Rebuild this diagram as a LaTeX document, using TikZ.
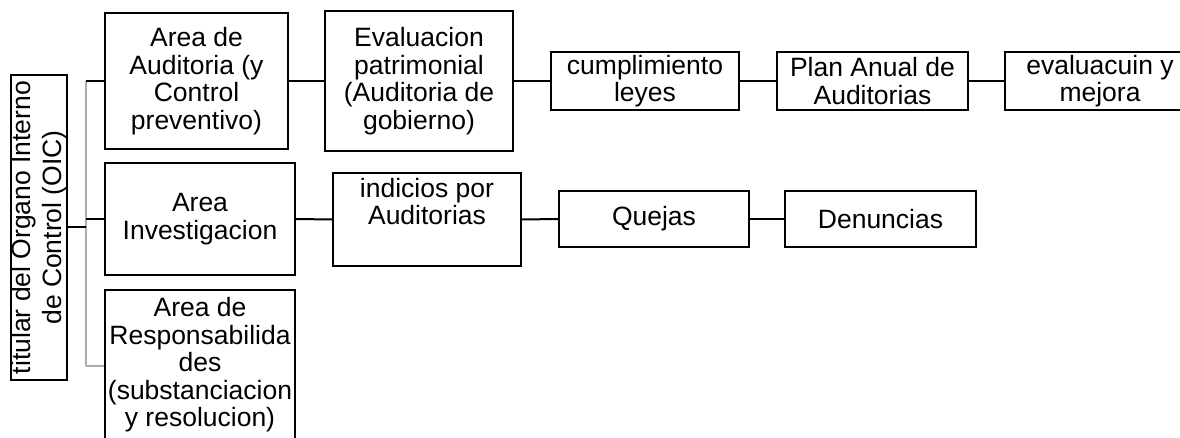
\documentclass[tikz,border=0pt]{standalone}
\usepackage{fontspec}
\setmainfont{Liberation Sans}
\usetikzlibrary{positioning}

\tikzset{
  box/.style={draw, line width=2pt, align=center, inner sep=0pt,
    font=\fontsize{26.5}{27.5}\selectfont},
  link/.style={line width=2pt},
  buslink/.style={line width=2.6pt, gray!65},
}

\begin{document}
\begin{tikzpicture}[x=1pt,y=-1pt]
    \useasboundingbox (0,0) rectangle (1180,438);

    % titular (rotated)
    \node[box, rotate=90, minimum width=305pt, minimum height=56pt,
      font=\fontsize{26.5}{31}\selectfont] (oic)
      at (39,227.5) {titular del Organo Interno\\de Control (OIC)};

    % areas
    \node[box, minimum width=183pt, minimum height=136pt] (aud) at (196.5,81)
      {Area de\\Auditoria (y\\Control\\preventivo)};
    \node[box, minimum width=190pt, minimum height=112pt] (inv) at (200,219)
      {Area\\Investigacion};
    \node[box, minimum width=190pt, minimum height=150pt, anchor=north] (resp) at (200,289)
      {Area de\\Responsabilida\\des\\(substanciacion\\y resolucion)};

    % first row
    \node[box, minimum width=188pt, minimum height=140pt] (eval) at (419,81)
      {Evaluacion\\patrimonial\\(Auditoria de\\gobierno)};
    \node[box, minimum width=188pt, minimum height=58pt] (cumpl) at (645,81)
      {cumplimiento\\leyes};
    \node[box, minimum width=191pt, minimum height=58pt] (plan) at (872.5,81)
      {Plan Anual de\\Auditorias};
    \node[box, minimum width=190pt, minimum height=58pt] (mejora) at (1100,81)
      {evaluacuin y\\mejora};

    % second row
    \node[box, minimum width=188pt, minimum height=93pt] (ind) at (427,219.5)
      {indicios por\\Auditorias\\\strut};
    \node[box, minimum width=190pt, minimum height=56pt] (quejas) at (654,219) {Quejas};
    \node[box, minimum width=191pt, minimum height=56pt] (denun) at (880.5,219) {Denuncias};

    % bus from titular to the areas
    \coordinate (bus) at (86,227.5);
    \coordinate (bustop) at (86,81);
    \coordinate (busbot) at (86,366);
    \draw[buslink] (bustop) -- (busbot);
    \draw[link] (oic.south) -- (bus);
    \draw[link] (bustop) -- (aud.west);
    \draw[link] (inv.west -| bus) -- (inv.west);
    \draw[buslink] (busbot) -- (busbot -| resp.west);

    \draw[link] (aud) -- (eval);
    \draw[link] (eval) -- (cumpl);
    \draw[link] (cumpl) -- (plan);
    \draw[link] (plan) -- (mejora);

    \draw[link] (inv) -- (ind);
    \draw[link] (ind) -- (quejas);
    \draw[link] (quejas) -- (denun);
\end{tikzpicture}
\end{document}
